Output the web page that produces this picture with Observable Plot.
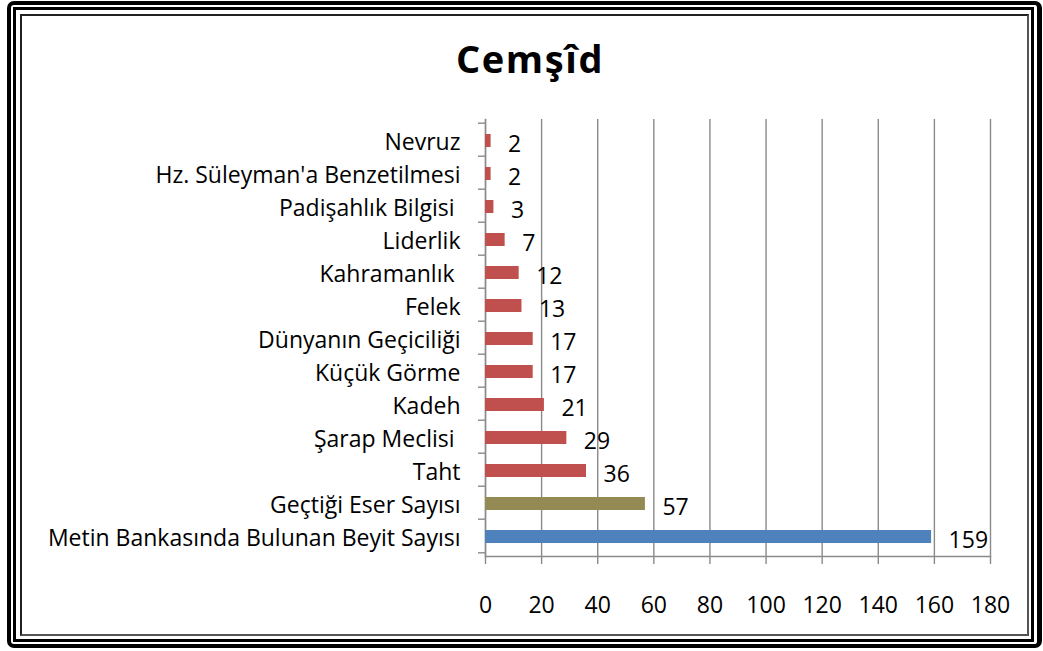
<!DOCTYPE html>
<html><head><meta charset="utf-8">
<script src="https://cdn.jsdelivr.net/npm/d3@7"></script>
<script src="https://cdn.jsdelivr.net/npm/@observablehq/plot@0.6"></script>
<style>
body{margin:0;background:#fff;}
#wrap{position:relative;width:1043px;height:651px;overflow:hidden;background:#fff;}
.f{position:absolute;box-sizing:border-box;border-style:solid;border-color:#000;}
#title{position:absolute;left:17px;width:1026px;top:40px;line-height:36px;text-align:center;font-family:"Open Sans";font-weight:bold;font-size:38px;letter-spacing:1.6px;color:#000;}
#chart{position:absolute;left:0;top:0;}
#chart text{white-space:pre;}
</style>
</head><body>
<div id="wrap">
  <div class="f" style="left:7px;top:1px;width:1035px;height:647px;border-width:4px 5px 4px 4px;border-radius:7px;"></div>
  <div class="f" style="left:13px;top:7px;width:1021px;height:635px;border-width:3px;"></div>
  <div class="f" style="left:20px;top:14px;width:1009px;height:622px;border-width:2px;border-color:#222 #555 #555 #222;"></div>
  <div id="title">Cemşîd</div>
  <div id="chart"></div>
</div>
<script>
const categories = ["Nevruz","Hz. Süleyman'a Benzetilmesi","Padişahlık Bilgisi ","Liderlik","Kahramanlık ","Felek","Dünyanın Geçiciliği","Küçük Görme","Kadeh","Şarap Meclisi ","Taht","Geçtiği Eser Sayısı","Metin Bankasında Bulunan Beyit Sayısı"];
const values = [2,2,3,7,12,13,17,17,21,29,36,57,159];
const groups = ["tema","tema","tema","tema","tema","tema","tema","tema","tema","tema","tema","eser","beyit"];
const groupNames = ["tema","eser","beyit"];
const groupColors = ["#C0504D","#948A54","#4F81BD"];
const xTicks = [0,20,40,60,80,100,120,140,160,180];

const data = categories.map((c,i)=>({cat:c, value:values[i], group:groups[i]}));

const W = 1043, H = 651, mL = 485, mR = 53, mT = 119, mB = 95;
const half = (H - mT - mB) / categories.length / 2;
const gray = "#8a8a8a";
const fs = 23;

const chart = Plot.plot({
  width: W, height: H,
  marginLeft: mL, marginRight: mR, marginTop: mT, marginBottom: mB,
  style: {fontFamily: "Open Sans", fontSize: fs + "px", color: "#000", background: "transparent"},
  x: {domain: [0,180], label: null},
  y: {domain: categories, paddingInner: 0.6, paddingOuter: 0.3, label: null},
  color: {domain: groupNames, range: groupColors},
  marks: [
    Plot.gridX(xTicks, {stroke: gray, strokeOpacity: 1, strokeWidth: 1.4}),
    Plot.frame({anchor: "left", stroke: gray, strokeWidth: 1.4}),
    Plot.frame({anchor: "bottom", stroke: gray, strokeWidth: 1.4}),
    Plot.axisX(xTicks, {anchor: "bottom", tickSize: 8, tickPadding: 32, stroke: gray, strokeWidth: 1.4, fontSize: fs, tickFormat: d => String(d)}),
    Plot.axisY({anchor: "left", tickSize: 0, tickPadding: 25, fontSize: fs, dy: 3}),
    Plot.axisY({anchor: "left", tickSize: 7, tickFormat: () => "", dy: -half, stroke: gray, strokeWidth: 1.4}),
    Plot.axisY([categories[categories.length-1]], {anchor: "left", tickSize: 7, tickFormat: () => "", dy: half, stroke: gray, strokeWidth: 1.4}),
    Plot.barX(data, {x: "value", y: "cat", fill: "group", dy: 1}),
    Plot.text(data, {x: "value", y: "cat", text: d => String(d.value), textAnchor: "start", dx: 17, dy: 5, fontSize: fs, fill: "#000"})
  ]
});
document.getElementById("chart").appendChild(chart);
</script>
</body></html>
